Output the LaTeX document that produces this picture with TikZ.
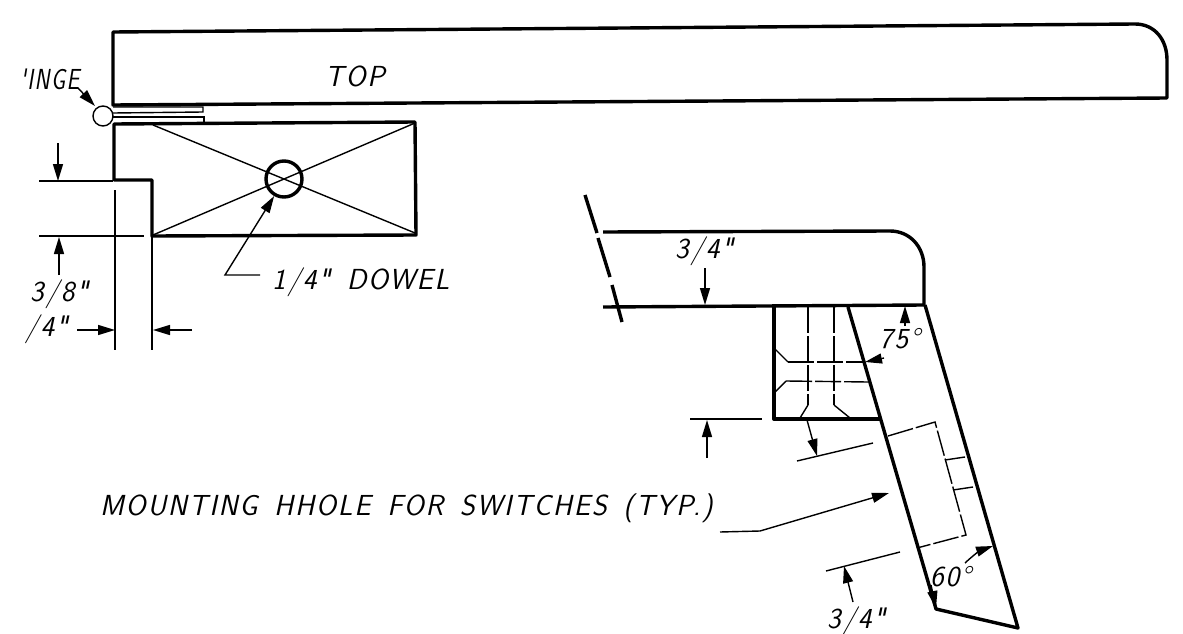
\documentclass[tikz,border=0pt]{standalone}
\usepackage{fontspec}
\newfontfamily\dwgfont[LetterSpace=6,WordSpace=1.53]{Latin Modern Sans}
\usetikzlibrary{arrows.meta}
\tikzset{
  heavy/.style={line width=3.4pt, line join=round},
  thin line/.style={line width=1.4pt},
  hidden/.style={line width=1.4pt, dash pattern=on 26pt off 3pt},
  dim/.style={line width=1.4pt, -{Stealth[length=17pt,width=10pt,inset=0pt]}},
  lbl/.style={anchor=west, inner sep=0pt, font=\dwgfont\slshape\fontsize{29}{29}\selectfont}
}
\begin{document}
\begin{tikzpicture}[x=1pt,y=-1pt]
   \useasboundingbox (0,0) rectangle (1183,634);

%Top and hinge
   \draw[heavy] (113,32) -- (1135,24) .. controls (1155,24) and (1167,40) .. (1167,60) -- (1167,98) -- (113,105) -- cycle;
   \draw[thin line] (113,107) -- (203,107) -- (203,112) -- (113,113);
   \draw[thin line] (113,117) -- (204,117) -- (204,122);
   \node[draw, circle, line width=1.4pt, minimum size=20pt, inner sep=0pt] at (103,116) (hinge) {};
   \node[lbl] at (20,79) (hingelabel) {\scalebox{.78}[1]{'INGE}};
   \node[lbl] at (325,76) (toplabel) {TOP};
   \draw[dim] (78,88) to (95,106);

%Block with dowel
   \draw[heavy] (114,124) -- (415,122) -- (416,235) -- (152,236) -- (152,180) -- (114,180) -- cycle;
   \draw[thin line] (153,125) -- (415,233);
   \draw[thin line] (153,235) -- (415,123);
   \node[draw, circle, line width=3.4pt, minimum size=36pt, inner sep=0pt] at (284,179) (dowel) {};
   \draw[dim] (260,275) -- (225,275) -- (dowel.240);
   \node[lbl] at (272,282) (dowellabel) {1/4" DOWEL};

%Dimensions on the left
   \draw[thin line] (39,181) -- (113,181);
   \draw[thin line] (39,236) -- (144,236);
   \draw[thin line] (115,190) -- (115,350);
   \draw[thin line] (152,236) -- (152,350);
   \draw[dim] (58,143) to (58,181);
   \draw[dim] (59,275) to (59,237);
   \draw[dim] (77,330) to (115,330);
   \draw[dim] (192,330) to (153,330);
   \node[lbl] at (30,294) (depthlabel) {3/8"};
   \node[lbl] at (25,329) (widthlabel) {/4"};

%Break line and second top
   \draw[heavy] (585,195) -- (597,233);
   \draw[heavy] (598,238) -- (610,277);
   \draw[heavy] (612,285) -- (622,322);
   \draw[heavy] (603,232) -- (890,231) .. controls (910,231) and (924,247) .. (924,267) -- (924,305) -- (603,307);
   \node[lbl] at (675,251) (toplabelb) {3/4"};
   \draw[dim] (705,268) to (705,305);

%Front panel
   \draw[heavy] (774,307) -- (774,419) -- (880,419);
   \draw[heavy] (848,307) -- (936,609) -- (1018,628) -- (925,305);

%Hidden lines of the block
   \draw[hidden] (808,307) -- (808,405);
   \draw[thin line] (808,405) -- (800,418);
   \draw[hidden] (834,307) -- (834,405);
   \draw[thin line] (834,405) -- (850,418);
   \draw[hidden] (788,362) -- (865,362);
   \draw[thin line] (788,362) -- (775,349);
   \draw[hidden] (786,381) -- (868,382);
   \draw[thin line] (786,381) -- (775,392);

%Hidden lines of the switch hole
   \draw[hidden] (888,436) -- (935,422) -- (966,535) -- (917,548);
   \draw[thin line] (945,460) -- (965,457);
   \draw[thin line] (953,490) -- (973,487);

%Dimensions on the right
   \node[lbl] at (879,339) (anglea) {75°};
   \draw[dim] (905,326) to (905,306);
   \draw[dim] (884,358) to (865,362);
   \draw[thin line] (690,419) -- (762,419);
   \draw[dim] (707,458) to (707,420);
   \draw[thin line] (797,461) -- (873,443);
   \draw[dim] (807,420) to (817,456);
   \node[lbl] at (100,508) (mountlabel) {MOUNTING HHOLE FOR SWITCHES (TYP.)};
   \draw[dim] (720,532) -- (760,531) -- (889,493);
   \draw[thin line] (826,571) -- (900,552);
   \draw[dim] (853,602) to (844,566);
   \node[lbl] at (827,621) (holelabel) {3/4"};
   \node[lbl] at (930,577) (angleb) {60°};
   \draw[dim] (965,563) to[bend left=12] (993,546);
   \draw[dim] (931,585) to (936,608);
\end{tikzpicture}
\end{document}
